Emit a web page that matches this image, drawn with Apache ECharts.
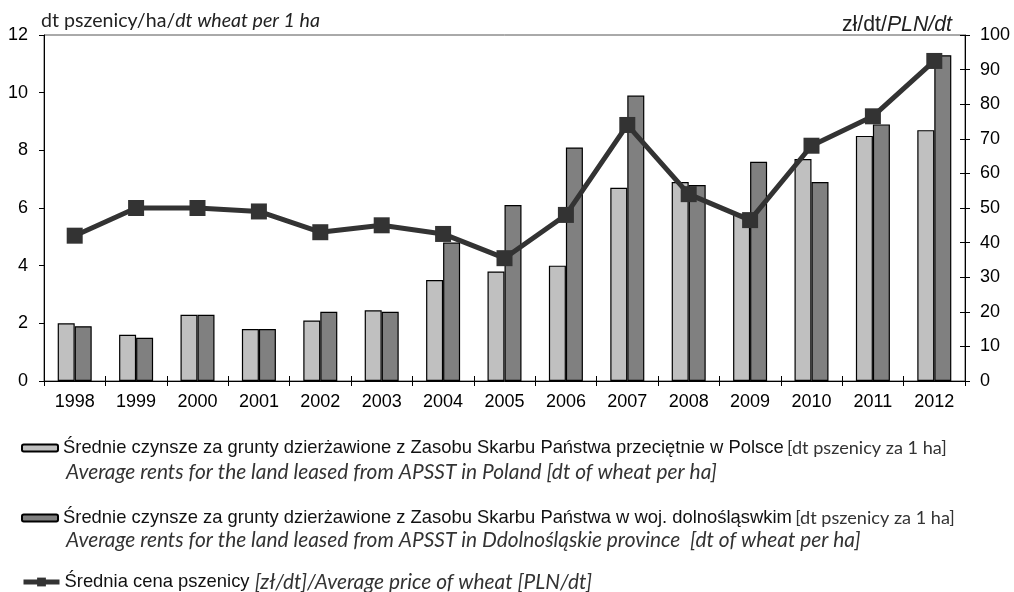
<!DOCTYPE html>
<html>
<head>
<meta charset="utf-8">
<script src="https://cdn.jsdelivr.net/npm/echarts@6/dist/echarts.min.js"></script>
<style>html,body{margin:0;padding:0;background:#fff}#c{width:1014px;height:592px}</style>
</head>
<body>
<div id="c"></div>
<script>
// ---- data ----
const years = ['1998','1999','2000','2001','2002','2003','2004','2005','2006','2007','2008','2009','2010','2011','2012'];
const rentPoland = [2.0, 1.6, 2.3, 1.8, 2.1, 2.45, 3.5, 3.8, 4.0, 6.7, 6.9, 5.8, 7.7, 8.5, 8.7];
const rentDolnoslaskie = [1.9, 1.5, 2.3, 1.8, 2.4, 2.4, 4.8, 6.1, 8.1, 9.9, 6.8, 7.6, 6.9, 8.9, 11.3];
const wheatPrice = [42, 50, 50, 49, 43, 45, 42.5, 35.5, 48, 74, 54, 46.5, 68, 76.5, 92.5];
const leftTicks = {min: 0, max: 12, interval: 2};
const rightTicks = {min: 0, max: 100, interval: 10};

const s1a = 'Średnie czynsze za grunty dzierżawione z Zasobu Skarbu Państwa przeciętnie w Polsce';
const s1b = '[dt pszenicy za 1 ha]';
const s1c = 'Average rents for the land leased from APSST in Poland [dt of wheat per ha]';
const s2a = 'Średnie czynsze za grunty dzierżawione z Zasobu Skarbu Państwa w woj. dolnośląswkim';
const s2b = '[dt pszenicy za 1 ha]';
const s2c = 'Average rents for the land leased from APSST in Ddolnośląskie province  [dt of wheat per ha]';
const s3a = 'Średnia cena pszenicy ';
const s3b = '[zł/dt]/Average price of wheat [PLN/dt]';
const leftTitleA = 'dt pszenicy/ha/';
const leftTitleB = 'dt wheat per 1 ha';
const rightTitleA = 'zł/dt/';
const rightTitleB = 'PLN/dt';

// ---- font sizing ----
const ARIAL = "'Liberation Sans', Arial, sans-serif";
const CALI = "Lato, 'Noto Sans', sans-serif";
function fit(text, fam, style, target) {
  const ctx = document.createElement('canvas').getContext('2d');
  ctx.font = style + ' 100px ' + fam;
  return Math.round(1000 * target / ctx.measureText(text).width) / 10;
}
const aSize = fit(s1a, ARIAL, 'normal', 722);
const tickSize = 18;
const cSize = fit(s1c, CALI, 'italic', 650);
const bSize = fit(s1b, CALI, 'normal', 160);
const tSize = fit(leftTitleA + leftTitleB, CALI, 'normal', 286);
const rSize = fit(rightTitleA + rightTitleB, ARIAL, 'normal', 110);

const chart = echarts.init(document.getElementById('c'), null, {renderer: 'canvas'});
const dark = '#333333';

function legendRich() {
  return {
    a: {fontFamily: ARIAL, fontSize: aSize, color: '#111'},
    b: {fontFamily: CALI, fontSize: bSize, color: '#333'},
    c: {fontFamily: CALI, fontSize: cSize, fontStyle: 'italic', color: '#333'}
  };
}

chart.setOption({
  animation: false,
  backgroundColor: '#fff',
  grid: {left: 44, right: 49, top: 35, bottom: 211, containLabel: false, outerBoundsMode: 'none',
         show: true, borderColor: '#555', borderWidth: 1, backgroundColor: 'transparent'},
  xAxis: [{
    type: 'category', data: years, boundaryGap: true,
    axisLine: {lineStyle: {color: '#000', width: 1}},
    axisTick: {show: true, length: 5, interval: 0, lineStyle: {color: '#000'}},
    axisLabel: {fontFamily: ARIAL, fontSize: tickSize, color: '#000', margin: 12, interval: 0}
  }, {
    type: 'category', data: years, boundaryGap: true, position: 'bottom',
    axisLine: {show: false},
    axisTick: {show: true, inside: true, length: 5, interval: 0, lineStyle: {color: '#000'}},
    axisLabel: {show: false}
  }],
  yAxis: [{
    type: 'value', position: 'left', min: leftTicks.min, max: leftTicks.max, interval: leftTicks.interval,
    axisLine: {show: true, lineStyle: {color: '#000'}},
    axisTick: {show: true, length: 5, lineStyle: {color: '#000'}},
    splitLine: {show: false},
    axisLabel: {fontFamily: ARIAL, fontSize: tickSize, color: '#000', margin: 16},
    name: '{a|' + leftTitleA + '}{b|' + leftTitleB + '}',
    nameLocation: 'end', nameGap: 14,
    nameTextStyle: {align: 'left', verticalAlign: 'middle', padding: [0, 0, 0, -3],
      rich: {a: {fontFamily: CALI, fontSize: tSize, color: '#222'},
             b: {fontFamily: CALI, fontSize: tSize, fontStyle: 'italic', color: '#222'}}}
  }, {
    type: 'value', position: 'right', min: rightTicks.min, max: rightTicks.max, interval: rightTicks.interval,
    axisLine: {show: true, lineStyle: {color: '#000'}},
    axisTick: {show: true, length: 5, lineStyle: {color: '#000'}},
    splitLine: {show: false},
    axisLabel: {fontFamily: ARIAL, fontSize: tickSize, color: '#000', margin: 15},
    name: '{a|' + rightTitleA + '}{b|' + rightTitleB + '}',
    nameLocation: 'end', nameGap: 10,
    nameTextStyle: {align: 'right', verticalAlign: 'middle', padding: [0, 13, 0, 0],
      rich: {a: {fontFamily: ARIAL, fontSize: rSize, color: '#222'},
             b: {fontFamily: ARIAL, fontSize: rSize, fontStyle: 'italic', color: '#222'}}}
  }, {
    type: 'value', position: 'right', min: rightTicks.min, max: rightTicks.max, interval: rightTicks.interval,
    axisLine: {show: false},
    axisTick: {show: true, inside: true, length: 5, lineStyle: {color: '#000'}},
    splitLine: {show: false},
    axisLabel: {show: false}
  }],
  legend: [{
    data: ['s1'], left: 21, top: 437, itemWidth: 36, itemHeight: 7, padding: 0,
    textStyle: {lineHeight: 22, rich: legendRich()},
    formatter: () => '{a|' + s1a + '} {b|' + s1b + '}'
  }, {
    data: ['s2'], left: 21, top: 507, itemWidth: 36, itemHeight: 7, padding: 0,
    textStyle: {lineHeight: 22, rich: legendRich()},
    formatter: () => '{a|' + s2a + '} {b|' + s2b + '}'
  }, {
    data: ['s3'], left: 21, top: 571, itemWidth: 36, itemHeight: 11, padding: 0,
    lineStyle: {width: 5},
    textStyle: {lineHeight: 22, rich: legendRich()},
    formatter: () => '{a|' + s3a + '}{c|' + s3b + '}'
  }],
  graphic: [
    {type: 'text', x: 66, y: 472, style: {text: s1c, font: 'italic ' + cSize + 'px ' + CALI, fill: '#333', verticalAlign: 'middle'}},
    {type: 'text', x: 66, y: 540, style: {text: s2c, font: 'italic ' + cSize + 'px ' + CALI, fill: '#333', verticalAlign: 'middle'}}
  ],
  series: [{
    name: 's1', type: 'bar', data: rentPoland, barWidth: 17, barGap: '0%',
    itemStyle: {color: '#c0c0c0', borderColor: '#000', borderWidth: 1.2}
  }, {
    name: 's2', type: 'bar', data: rentDolnoslaskie, barWidth: 17, barGap: '0%',
    itemStyle: {color: '#808080', borderColor: '#000', borderWidth: 1.2}
  }, {
    name: 's3', type: 'line', yAxisIndex: 1, data: wheatPrice, z: 10,
    symbol: 'rect', symbolSize: 16,
    lineStyle: {color: dark, width: 5},
    itemStyle: {color: dark}
  }]
});
</script>
</body>
</html>
